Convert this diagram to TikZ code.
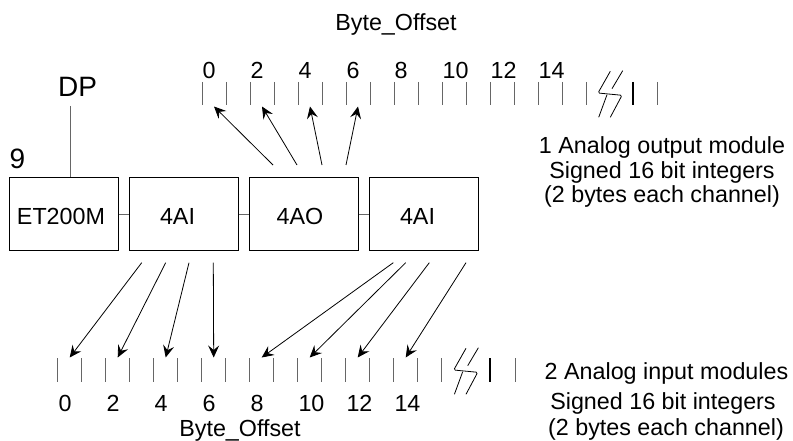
\documentclass[tikz,border=0pt]{standalone}
\usepackage{fontspec}
\setmainfont{Liberation Sans}
\usetikzlibrary{arrows.meta}
\begin{document}
\begin{tikzpicture}[x=1pt,y=-1pt,
  box/.style={draw=black, line width=1pt, minimum width=109pt, minimum height=72pt, inner sep=0pt},
  lbl/.style={font=\fontsize{23.3}{28}\selectfont, inner sep=0pt, anchor=base},
  big/.style={font=\fontsize{28}{32}\selectfont, inner sep=0pt, anchor=base},
  tickline/.style={draw=black!60, line width=1pt},
  boldtick/.style={draw=black, line width=2pt},
  conn/.style={draw=black!60, line width=1pt},
  arr/.style={draw=black, line width=0.8pt, -{Stealth[length=12pt,width=11pt,inset=4.5pt]}},
  brksym/.pic={
    \draw[line width=0.8pt, line join=round, rounded corners=1.5pt] (13.3,-21.7) -- (1,0) -- (25,2.3) -- (13.3,24.3);
    \draw[line width=0.8pt] (25.7,-22.3) -- (15,-4.3);
    \draw[line width=0.8pt] (10,1.7) -- (1.7,24.3);
  }]
\useasboundingbox (0,0) rectangle (793,441);

% top scale
\node[lbl] (toptitle) at (396,31) {Byte\_Offset};
\foreach \k in {0,...,16} \draw[tickline] ({202+24*\k},82) -- ++(0,23);
\draw[boldtick] (633.3,82) -- ++(0,23);
\draw[tickline] (657.7,82) -- ++(0,23);
\pic at (597,93) {brksym};
\foreach \k/\t in {0/0,1/2,2/4,3/6,4/8,5/10,6/12,7/14}
  \node[lbl, anchor=base west] (tl\k) at ({202.5+48*\k},78.3) {\t};

% bottom scale
\foreach \k in {0,...,16} \draw[tickline] ({57.7+24*\k},358) -- ++(0,24);
\draw[boldtick] (490,358) -- ++(0,24);
\draw[tickline] (515,358) -- ++(0,24);
\pic at (452.7,370) {brksym};
\foreach \k/\t in {0/0,1/2,2/4,3/6,4/8,5/10,6/12,7/14}
  \node[lbl, anchor=base west] (bl\k) at ({58.3+48*\k},411.5) {\t};
\node[lbl] (bottitle) at (240,436) {Byte\_Offset};

% DP and 9
\node[big] (dp) at (77.5,96.7) {DP};
\node[big] (nine) at (17.5,168.3) {9};

% boxes
\node[box] (et)  at (63.8,214)  {};
\node[box] (ai1) at (183.8,214) {};
\node[box] (ao)  at (303.8,214) {};
\node[box] (ai2) at (424.2,214) {};
\node[lbl] (tet)  at (61,224)    {ET200M};
\node[lbl] (tai1) at (177.5,224) {4AI};
\node[lbl] (tao)  at (300,224)   {4AO};
\node[lbl] (tai2) at (417.5,224) {4AI};

\draw[conn] (et.east) -- (ai1.west);
\draw[conn] (ai1.east) -- (ao.west);
\draw[conn] (ao.east) -- (ai2.west);
\coordinate (dpend) at (70,106);
\draw[conn] (dpend) -- (dpend |- et.north);

% top arrows (4AO -> output bytes)
\foreach \i/\sx in {0/273,1/297,2/322,3/346} {
  \coordinate (ots\i) at (\sx,165);
  \coordinate (oth\i) at ({214+48*\i},106.5);
  \draw[arr] (ots\i) -- (oth\i);
}

% bottom arrows (4AI -> input bytes)
\foreach \i/\sx in {0/141.7,1/165.7,2/189,3/213.3,4/393.3,5/405.7,6/429.3,7/466} {
  \coordinate (its\i) at (\sx,262.7);
  \coordinate (ith\i) at ({69.7+48*\i},357.5);
  \draw[arr] (its\i) -- (ith\i);
}

% right texts
\node[lbl] (o1) at (662,153.4) {1 Analog output module};
\node[lbl] (o2) at (662,178.4) {Signed 16 bit integers};
\node[lbl] (o3) at (662,203) {(2 bytes each channel)};
\node[lbl] (i1) at (666.5,379.5) {2 Analog input modules};
\node[lbl] (i2) at (663,409) {Signed 16 bit integers};
\node[lbl] (i3) at (666,435.5) {(2 bytes each channel)};
\end{tikzpicture}
\end{document}
